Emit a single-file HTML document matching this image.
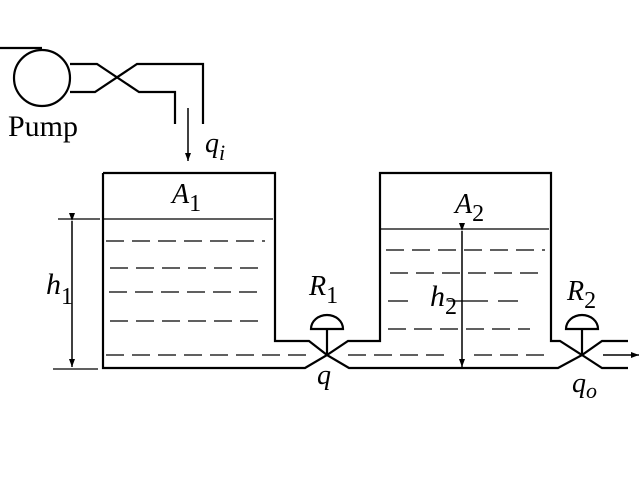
<!DOCTYPE html><html><head><style>body{margin:0;background:#fff}svg{display:block}text{font-family:"Liberation Serif",serif;fill:#000}</style></head><body>
<svg width="640" height="480" viewBox="0 0 640 480" xmlns="http://www.w3.org/2000/svg">
<defs><marker id="a" markerWidth="8" markerHeight="8" refX="8" refY="4" orient="auto" markerUnits="userSpaceOnUse"><path d="M0,1 L8,4 L0,7Z" fill="#000"/></marker></defs>
<g fill="none" stroke="#000" stroke-width="2.2">
<line x1="0" y1="48" x2="42" y2="48"/>
<circle cx="42" cy="78" r="28"/>
<polyline points="70,64 97,64 139,92 175,92 175,124"/>
<polyline points="70,92 95,92 137,64 203,64 203,124"/>
<polyline points="103,173 103,368 305,368 327,355 349,368 558,368 582,355 602,368 628,368"/>
<polyline points="103,173 275,173 275,341 309,341 327,355 348,341 380,341 380,173 551,173 551,341 560,341 582,355 602,341 628,341"/>
<path d="M311,329 a16,14 0 0 1 32,0 Z"/>
<line x1="327" y1="329" x2="327" y2="355"/>
<path d="M566,329 a16,14 0 0 1 32,0 Z"/>
<line x1="582" y1="329" x2="582" y2="355"/>
</g>
<g stroke="#000" stroke-width="1.3" fill="none">
<line x1="103" y1="219" x2="273" y2="219"/>
<line x1="58" y1="219" x2="100" y2="219"/>
<line x1="53" y1="369" x2="98" y2="369"/>
<line x1="380" y1="229" x2="549" y2="229"/>
<g stroke-dasharray="18,8">
<line x1="106" y1="241" x2="265" y2="241"/>
<line x1="110" y1="268" x2="260" y2="268"/>
<line x1="109" y1="292" x2="265" y2="292"/>
<line x1="110" y1="321" x2="265" y2="321"/>
<line x1="106" y1="355" x2="310" y2="355"/>
<line x1="348" y1="355" x2="450" y2="355"/>
<line x1="474" y1="355" x2="550" y2="355"/>
<line x1="386" y1="250" x2="545" y2="250"/>
<line x1="390" y1="273" x2="545" y2="273"/>
<line x1="388" y1="301" x2="540" y2="301" stroke-dasharray="20,40,40,10"/>
<line x1="388" y1="329" x2="530" y2="329"/>
</g>
</g>
<g stroke="#000" stroke-width="1.5">
<line x1="72" y1="221" x2="72" y2="367" marker-start="url(#a)" marker-end="url(#a)"/>
<line x1="462" y1="231" x2="462" y2="367" marker-start="url(#a)" marker-end="url(#a)"/>
<line x1="188" y1="108" x2="188" y2="161" marker-end="url(#a)"/>
<line x1="603" y1="355" x2="639" y2="355" marker-end="url(#a)"/>
</g>
<text x="8" y="136" font-size="30">Pump</text>
<text x="205" y="152" font-size="28" font-style="italic">q<tspan font-size="22" dy="8">i</tspan></text>
<text x="172" y="203" font-size="28" font-style="italic">A<tspan font-size="24" font-style="normal" dy="8">1</tspan></text>
<text x="455" y="213" font-size="28" font-style="italic">A<tspan font-size="24" font-style="normal" dy="8">2</tspan></text>
<text x="46" y="294" font-size="30" font-style="italic">h<tspan font-size="24" font-style="normal" dy="10">1</tspan></text>
<text x="430" y="306" font-size="30" font-style="italic">h<tspan font-size="24" font-style="normal" dy="8">2</tspan></text>
<text x="309" y="295" font-size="28" font-style="italic">R<tspan font-size="24" font-style="normal" dy="8">1</tspan></text>
<text x="567" y="300" font-size="28" font-style="italic">R<tspan font-size="24" font-style="normal" dy="8">2</tspan></text>
<text x="317" y="384" font-size="28" font-style="italic">q</text>
<text x="572" y="392" font-size="28" font-style="italic">q<tspan font-size="22" dy="6">o</tspan></text>
</svg></body></html>
